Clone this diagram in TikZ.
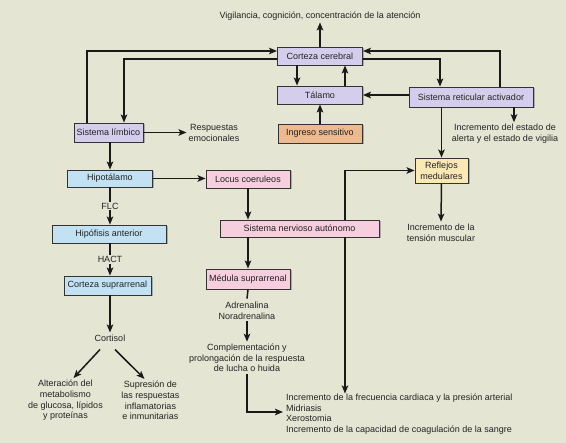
\documentclass[tikz,border=0pt]{standalone}
\usepackage{fontspec}
\setmainfont{Liberation Sans}
\usetikzlibrary{arrows.meta}
\usetikzlibrary{calc}
\usetikzlibrary{shadows}
\definecolor{paper}{RGB}{229,229,212}
\definecolor{lilac}{RGB}{213,205,236}
\definecolor{peach}{RGB}{236,186,142}
\definecolor{skyblue}{RGB}{194,226,244}
\definecolor{rosepink}{RGB}{246,206,221}
\definecolor{cream}{RGB}{250,233,181}
\definecolor{inkgray}{RGB}{35,35,35}
\tikzset{
    flow line/.style={
        line width=1.5pt,
        draw=black!90,
    },
    flow arrow/.style={
        flow line,
        -{Stealth[length=8pt,width=6.5pt,inset=1.8pt]},
    },
    brain box/.style={
        draw=black!80,
        line width=0.9pt,
        inner sep=1pt,
        text=inkgray,
        align=center,
        drop shadow={shadow xshift=1.5pt, shadow yshift=-1.5pt, fill=black!50, opacity=0.55},
    },
    lilac box/.style={brain box, fill=lilac},
    peach box/.style={brain box, fill=peach},
    blue box/.style={brain box, fill=skyblue},
    pink box/.style={brain box, fill=rosepink},
    cream box/.style={brain box, fill=cream},
    note/.style={
        text=inkgray,
        align=center,
        inner sep=2pt,
    },
    hormone/.style={
        note,
        fill=paper,
        inner sep=1pt,
    },
}

\begin{document}
\begin{tikzpicture}[x=1pt, y=-1pt, font=\fontsize{9}{10.7}\selectfont]

    \fill[paper] (0,0) rectangle (566,443);
    \useasboundingbox (0,0) rectangle (566,443);

    % upper block
    \node[note] (vigilancia) at (320,16) {Vigilancia, cognición, concentración de la atención};
    \node[lilac box, minimum width=85pt, minimum height=18pt] (corteza) at (320,56) {Corteza cerebral};
    \node[lilac box, minimum width=85pt, minimum height=18pt] (talamo) at (320,95) {Tálamo};
    \node[peach box, minimum width=84pt, minimum height=19pt] (ingreso) at (320,133.5) {Ingreso sensitivo};
    \node[lilac box, minimum width=124pt, minimum height=20pt] (reticular) at (471,97) {Sistema reticular activador};
    \node[lilac box, minimum width=69pt, minimum height=19pt] (limbico) at (108.5,132.5) {Sistema límbico};
    \node[note] (emocionales) at (214,133) {Respuestas\\emocionales};
    \node[note] (alerta) at (505,134) {Incremento del estado de\\alerta y el estado de vigilia};

    % hormonal axis
    \node[blue box, minimum width=85pt, minimum height=17pt] (hipotalamo) at (110,178.5) {Hipotálamo};
    \node[blue box, minimum width=114pt, minimum height=18pt] (hipofisis) at (109,234) {Hipófisis anterior};
    \node[blue box, minimum width=87pt, minimum height=19pt] (suprarrenal) at (107.5,285.5) {Corteza suprarrenal};
    \node[note] (cortisol) at (110,338) {Cortisol};
    \node[note] (alteracion) at (65.5,400.5) {Alteración del\\metabolismo\\de glucosa, lípidos\\y proteínas};
    \node[note] (supresion) at (150.5,400.5) {Supresión de\\las respuestas\\inflamatorias\\e inmunitarias};

    % autonomic axis
    \node[pink box, minimum width=84pt, minimum height=18pt] (locus) at (248,179) {Locus coeruleos};
    \node[pink box, minimum width=159pt, minimum height=17pt] (autonomo) at (299.5,228.5) {Sistema nervioso autónomo};
    \node[pink box, minimum width=84pt, minimum height=20pt] (medula) at (248,279) {Médula suprarrenal};
    \node[note] (adrenalina) at (247,310.5) {Adrenalina\\Noradrenalina};
    \node[note] (lucha) at (247,358) {Complementación y\\prolongación de la respuesta\\de lucha o huida};
    \node[note, align=left, anchor=west, inner sep=0pt] (efectos) at (286,414) {Incremento de la frecuencia cardiaca y la presión arterial\\Midriasis\\Xerostomia\\Incremento de la capacidad de coagulación de la sangre};

    \node[cream box, minimum width=53pt, minimum height=25pt] (reflejos) at (441.5,170.5) {Reflejos\\medulares};
    \node[note] (tension) at (441,232.5) {Incremento de la\\tensión muscular};

    % connectors around the cortex
    \draw[flow arrow] (corteza.north) -- (vigilancia.south);
    \draw[flow arrow] ([xshift=-23pt]corteza.south) -- ([xshift=-23pt]talamo.north);
    \draw[flow arrow] ([xshift=25pt]talamo.north) -- ([xshift=25pt]corteza.south);
    \draw[flow arrow] (ingreso.north) -- (talamo.south);
    \draw[flow arrow] (reticular.west |- talamo.east) -- (talamo.east);
    \draw[flow arrow] ([xshift=-21.5pt]limbico.north) |- ([yshift=5pt]corteza.west);
    \draw[flow arrow] ([yshift=-3pt]corteza.west) -| ([xshift=15.5pt]limbico.north);
    \draw[flow arrow] ([yshift=-3pt]corteza.east) -| ([xshift=-31pt]reticular.north);
    \draw[flow arrow] ([xshift=29pt]reticular.north) |- ([yshift=5pt]corteza.east);
    \draw[flow arrow] ([xshift=43pt]reticular.south) -- ([xshift=43pt]reticular.south |- alerta.north);
    \draw[flow arrow] (reticular.south -| reflejos.north) -- (reflejos.north);
    \draw[flow arrow] (limbico.east) -- (limbico.east -| emocionales.west);
    \draw[flow arrow] (reflejos.south) -- (tension.north);

    % hormonal chain
    \draw[flow arrow] (limbico.south -| hipotalamo.north) -- (hipotalamo.north);
    \draw[flow arrow] (hipotalamo.south) -- node[hormone] {FLC} (hipotalamo.south |- hipofisis.north);
    \draw[flow arrow] (hipotalamo.south |- hipofisis.south) -- node[hormone] {HACT} (hipotalamo.south |- suprarrenal.north);
    \draw[flow arrow] (hipotalamo.south |- suprarrenal.south) -- (cortisol.north);
    \draw[flow arrow] ($(cortisol.south)+(-10,6)$) -- ($(alteracion.north)+(8,0)$);
    \draw[flow arrow] ($(cortisol.south)+(5,6)$) -- ($(supresion.north)+(-6,0)$);

    % autonomic chain
    \draw[flow arrow] (hipotalamo.east) -- (hipotalamo.east -| locus.west);
    \draw[flow arrow] (locus.south) -- (locus.south |- autonomo.north);
    \draw[flow arrow] (locus.south |- autonomo.south) -- (medula.north);
    \draw[flow line] (medula.south) -- ([yshift=1pt]adrenalina.north);
    \draw[flow arrow] (adrenalina.south) -- (lucha.north);
    \draw[flow arrow] (lucha.south) |- ([xshift=-3pt, yshift=2pt]efectos.west);
    \draw[flow arrow] ([xshift=45.5pt]autonomo.north) |- (reflejos.west);
    \draw[flow arrow] ([xshift=45.5pt]autonomo.south) -- ([xshift=45.5pt]autonomo.south |- efectos.north);

\end{tikzpicture}
\end{document}
